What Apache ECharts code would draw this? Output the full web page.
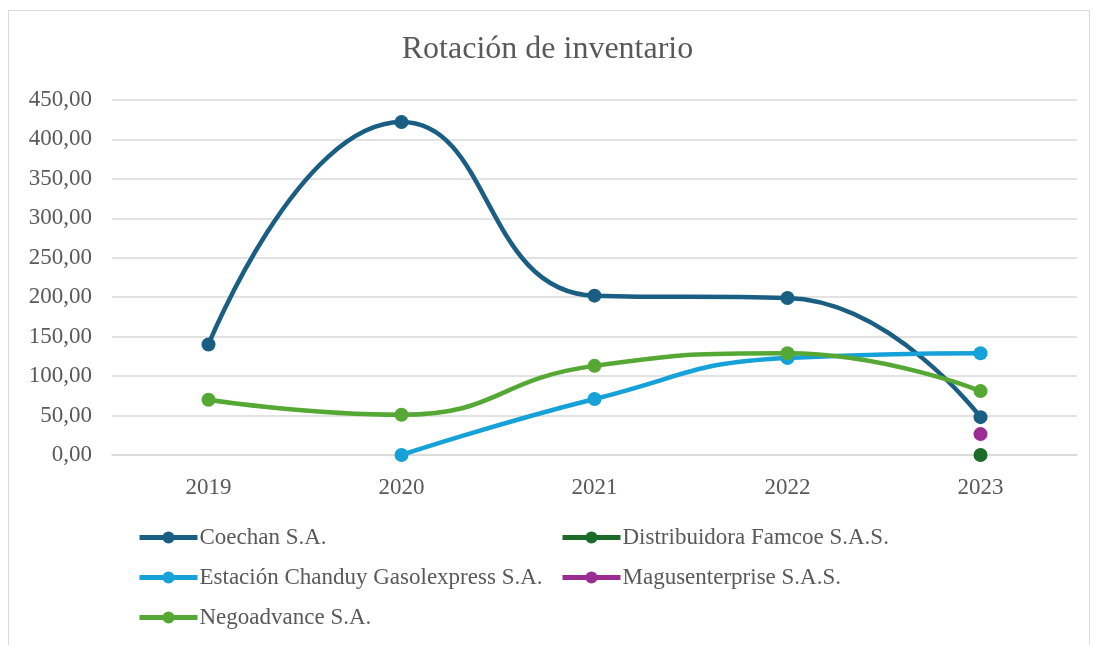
<!DOCTYPE html>
<html>
<head>
<meta charset="utf-8">
<script src="https://cdn.jsdelivr.net/npm/echarts@6/dist/echarts.min.js"></script>
<style>
  html, body { margin: 0; padding: 0; background: #fff; }
  #frame { position: absolute; left: 8px; top: 10px; width: 1082px; height: 650px; border: 1px solid #d9d9d9; box-sizing: border-box; }
  #chart { position: absolute; left: 0; top: 0; width: 1095px; height: 645px; }
</style>
</head>
<body>
<div id="frame"></div>
<div id="chart"></div>
<script>
const years = ['2019', '2020', '2021', '2022', '2023'];
const coechan = [140, 422, 202, 199, 48];
const famcoe = [null, null, null, null, 0];
const estacion = [null, 0, 71, 123, 129];
const magus = [null, null, null, null, 26.5];
const negoadvance = [70, 51, 113, 129, 81];

const names = ['Coechan S.A.', 'Distribuidora Famcoe S.A.S.', 'Estación Chanduy Gasolexpress S.A.',
               'Magusenterprise S.A.S.', 'Negoadvance S.A.'];
const colors = ['#1a5f83', '#1c6b28', '#16a1d9', '#9b2c92', '#55a834'];

const fontFam = '"Liberation Serif", "Times New Roman", serif';
const txt = '#595959';

let myChart = echarts.init(document.getElementById('chart'));

function line(name, data, color) {
    return {
        name: name,
        type: 'line',
        data: data,
        smooth: 0.5,
        connectNulls: false,
        symbol: 'circle',
        symbolSize: 14,
        lineStyle: { width: 4.5, color: color },
        itemStyle: { color: color },
        z: 3
    };
}

const legendBase = {
    orient: 'vertical',
    itemWidth: 58,
    itemHeight: 15,
    itemGap: 17,
    lineStyle: { width: 5 },
    textStyle: { fontFamily: fontFam, fontSize: 23, color: txt, padding: [0, 0, 0, -3] }
};

let option = {
    animation: false,
    title: {
        text: 'Rotación de inventario',
        left: 'center',
        top: 29,
        textStyle: { fontFamily: fontFam, fontSize: 32, fontWeight: 'normal', color: txt }
    },
    grid: { left: 112, right: 18, top: 100, bottom: 190 },
    legend: [
        Object.assign({}, legendBase, { left: 132, top: 521, data: [names[0], names[2], names[4]] }),
        Object.assign({}, legendBase, { left: 555, top: 521, data: [names[1], names[3]] })
    ],
    xAxis: {
        type: 'category',
        data: years,
        boundaryGap: true,
        axisLine: { lineStyle: { color: '#d9d9d9', width: 1.5 } },
        axisTick: { show: false },
        axisLabel: { fontFamily: fontFam, fontSize: 23, color: txt, margin: 21 }
    },
    yAxis: {
        type: 'value',
        min: 0,
        max: 450,
        interval: 50,
        axisLine: { show: false },
        axisTick: { show: false },
        splitLine: { lineStyle: { color: '#d9d9d9', width: 1.5 } },
        axisLabel: {
            fontFamily: fontFam, fontSize: 23, color: txt, margin: 20,
            formatter: v => v.toFixed(2).replace('.', ',')
        }
    },
    series: [
        line(names[0], coechan, colors[0]),
        line(names[1], famcoe, colors[1]),
        line(names[2], estacion, colors[2]),
        line(names[3], magus, colors[3]),
        line(names[4], negoadvance, colors[4])
    ]
};
myChart.setOption(option);
</script>
</body>
</html>
